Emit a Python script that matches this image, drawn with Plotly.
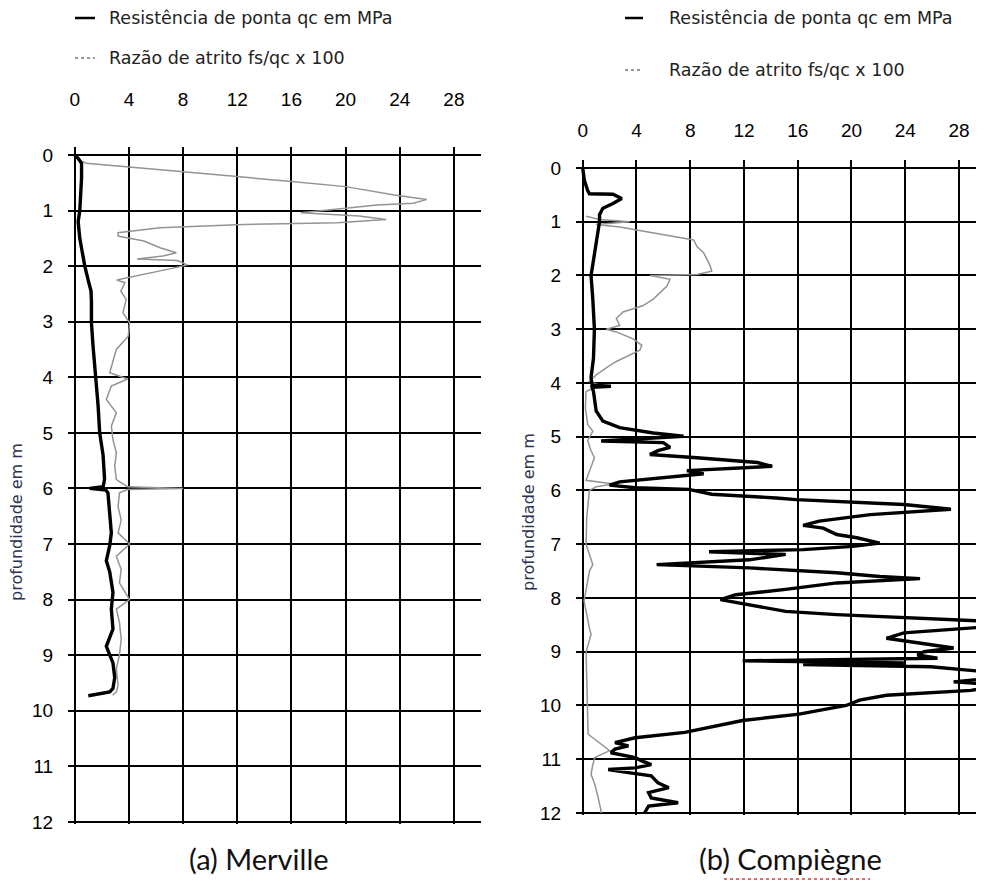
import plotly.graph_objects as go

# The page body has an 8px default margin, so the figure is drawn 8px in from the window edge.
OFF = 8
W, H = 984 - OFF, 890 - OFF

# ---------------- data ----------------
# Merville
mer_qc_depth = [0.0, 0.06, 0.15, 0.42, 1.0, 1.2, 1.5, 2.0, 2.26, 2.45, 2.63, 3.02, 3.44, 3.8, 4.03, 4.5,
                5.0, 5.4, 5.83, 5.97, 6.0, 6.03, 6.08, 6.5, 6.8, 7.03, 7.3, 7.5, 7.87, 8.17, 8.53,
                8.84, 9.14, 9.4, 9.6, 9.66, 9.7, 9.73]
mer_qc = [0.0, 0.25, 0.5, 0.5, 0.37, 0.25, 0.37, 0.74, 1.0, 1.2, 1.23, 1.23, 1.35, 1.47, 1.6, 1.72,
          1.84, 2.09, 2.2, 2.1, 1.1, 2.3, 2.45, 2.58, 2.7, 2.58, 2.33, 2.58, 2.82, 2.7, 2.82,
          2.33, 2.82, 2.95, 2.82, 2.58, 1.8, 1.0]

mer_rf_depth = [0.0, 0.09, 0.15, 0.21, 0.3, 0.39, 0.48, 0.57, 0.72, 0.8, 0.87, 0.9, 0.96, 1.04, 1.1,
                1.16, 1.22, 1.25, 1.31, 1.4, 1.46, 1.55, 1.67, 1.76, 1.82, 1.87, 1.9, 1.98, 2.05,
                2.15, 2.25, 2.3, 2.45, 2.6, 2.84, 3.02, 3.26, 3.5, 3.74, 3.92, 4.03, 4.16, 4.4,
                4.64, 4.88, 5.12, 5.36, 5.6, 5.84, 5.97, 6.0, 6.02, 6.08, 6.33, 6.57, 6.8, 7.0,
                7.22, 7.46, 7.7, 8.0, 8.17, 8.41, 8.71, 9.0, 9.24, 9.54, 9.66, 9.72]
mer_rf = [0.0, 0.25, 0.86, 3.8, 8.0, 12.0, 16.0, 20.0, 23.6, 26.0, 25.0, 22.3, 20.0, 16.7, 21.0,
          23.0, 19.4, 12.5, 6.3, 3.2, 3.2, 5.1, 6.3, 7.5, 6.5, 4.6, 7.6, 8.3, 7.0,
          5.0, 3.1, 3.7, 3.4, 3.8, 3.56, 4.05, 3.95, 3.07, 2.82, 2.58, 3.9, 2.7, 2.33,
          3.07, 2.7, 2.82, 3.07, 2.95, 3.07, 3.9, 8.0, 3.9, 3.3, 3.2, 3.43, 3.2, 4.05,
          3.07, 3.43, 3.3, 4.05, 3.07, 3.3, 3.43, 3.3, 3.07, 3.2, 3.07, 2.8]

# Compiègne
com_qc_depth = [0.0, 0.23, 0.42, 0.48, 0.49, 0.57, 0.66, 0.75, 0.87, 1.0, 1.4, 2.0, 2.44, 3.0, 3.54,
                3.9, 4.04, 4.06, 4.08, 4.16, 4.52, 4.71, 4.83, 4.93, 4.99, 5.05, 5.08, 5.11, 5.2,
                5.26, 5.33, 5.39, 5.48, 5.55, 5.63, 5.69, 5.78, 5.84, 5.9, 5.95, 5.98, 6.04, 6.07,
                6.14, 6.17, 6.26, 6.35, 6.45, 6.57, 6.65, 6.7, 6.82, 6.88, 6.98, 7.04, 7.1, 7.14,
                7.19, 7.29, 7.38, 7.44, 7.53, 7.6, 7.64, 7.72, 7.84, 7.94, 8.03, 8.12, 8.25, 8.31,
                8.4, 8.43, 8.5, 8.56, 8.65, 8.75, 8.84, 8.93, 9.0, 9.06, 9.12, 9.17, 9.21, 9.24,
                9.28, 9.37, 9.45, 9.56, 9.62, 9.72, 9.81, 9.9, 10.0, 10.16, 10.28, 10.41, 10.5,
                10.6, 10.69, 10.75, 10.81, 10.88, 10.97, 11.03, 11.1, 11.16, 11.19, 11.25, 11.31,
                11.44, 11.53, 11.62, 11.72, 11.81, 11.87, 12.0]
com_qc = [0.0, 0.12, 0.37, 0.5, 2.25, 2.9, 2.25, 1.5, 1.25, 1.25, 1.0, 0.62, 0.75, 0.87, 0.8,
          0.62, 0.7, 2.1, 0.7, 0.8, 1.0, 1.5, 2.75, 5.25, 7.5, 4.0, 1.37, 6.0, 6.5,
          5.6, 5.0, 8.5, 13.0, 14.1, 7.75, 9.0, 5.5, 2.75, 2.0, 3.9, 7.9, 8.9, 9.6,
          14.4, 15.9, 23.9, 27.4, 21.4, 17.6, 16.4, 17.9, 18.9, 20.4, 22.1, 20.1, 16.4, 9.4,
          15.1, 12.4, 5.5, 12.4, 18.9, 22.1, 25.1, 18.9, 15.1, 11.4, 10.25, 12.1, 15.1, 18.9,
          26.4, 29.9, 32.0, 28.9, 23.9, 22.6, 25.1, 27.6, 25.4, 24.9, 26.4, 11.9, 23.9, 16.4,
          25.9, 29.9, 32.0, 27.6, 31.0, 28.9, 22.6, 20.6, 19.6, 16.1, 11.9, 9.4, 7.6,
          3.9, 2.4, 3.4, 2.4, 2.1, 3.9, 4.4, 5.1, 3.9, 1.9, 3.4, 5.1,
          5.6, 6.4, 4.9, 5.1, 7.1, 4.9, 4.6]

com_rf_depth = [0.9, 0.96, 1.0, 1.05, 1.1, 1.2, 1.26, 1.34, 1.46, 1.58, 1.7, 1.83, 1.92, 1.98, 2.0,
                2.07, 2.2, 2.32, 2.44, 2.56, 2.68, 2.8, 2.93, 3.0, 3.05, 3.18, 3.3, 3.39, 3.48,
                3.6, 3.72, 3.85, 3.97, 4.04, 4.16, 4.47, 4.77, 4.9, 5.07, 5.26, 5.39, 5.63, 5.81,
                5.88, 5.93, 6.0, 6.5, 7.0, 7.38, 7.5, 8.06, 8.56, 8.68, 9.0, 9.5, 10.0, 10.3,
                10.53, 10.6, 10.72, 10.84, 10.97, 11.1, 11.28, 11.47, 11.66, 11.84, 12.0]
com_rf = [0.25, 1.25, 3.5, 1.0, 2.75, 5.0, 6.5, 8.25, 8.5, 9.0, 9.25, 9.5, 9.6, 8.5, 5.0,
          6.5, 6.25, 5.75, 5.25, 4.5, 3.0, 2.5, 2.75, 1.75, 2.5, 3.75, 4.4, 4.25, 3.5,
          2.5, 1.75, 1.0, 0.5, 1.25, 0.25, 0.2, 0.37, 0.75, 0.37, 0.62, 0.87, 0.5, 0.25,
          2.3, 1.0, 0.5, 0.3, 0.25, 0.75, 0.5, 0.1, 0.5, 0.62, 0.25, 0.3, 0.35, 0.35,
          0.4, 0.75, 1.4, 2.0, 0.9, 0.75, 0.62, 0.9, 1.1, 1.25, 1.4]

x_ticks = [0, 4, 8, 12, 16, 20, 24, 28]
y_ticks = list(range(0, 13))

legend_qc = "Resistência de ponta qc em MPa"
legend_rf = "Razão de atrito fs/qc x 100"
y_title = "profundidade em m"
captions = ["(a) Merville", "(b) Compiègne"]

# ---------------- figure ----------------
QC_COLOR = "#000000"
RF_COLOR = "#949494"
TEXT_FONT = "DejaVu Sans"
TICK_FONT = dict(family="Liberation Sans", size=19, color="#000000")

fig = go.Figure()
fig.add_trace(go.Scatter(x=mer_rf, y=mer_rf_depth, mode="lines", xaxis="x", yaxis="y",
                         line=dict(color=RF_COLOR, width=1.5), name=legend_rf, showlegend=False))
fig.add_trace(go.Scatter(x=mer_qc, y=mer_qc_depth, mode="lines", xaxis="x", yaxis="y",
                         line=dict(color=QC_COLOR, width=3.4), name=legend_qc, showlegend=False))
fig.add_trace(go.Scatter(x=com_rf, y=com_rf_depth, mode="lines", xaxis="x2", yaxis="y2",
                         line=dict(color=RF_COLOR, width=1.5), name=legend_rf, showlegend=False))
fig.add_trace(go.Scatter(x=com_qc, y=com_qc_depth, mode="lines", xaxis="x2", yaxis="y2",
                         line=dict(color=QC_COLOR, width=3.4), name=legend_qc, showlegend=False))


def px_x(p):
    # screen pixel -> paper fraction
    return (p - OFF) / W


def px_y(p):
    return 1 - (p - OFF) / H


common_x = dict(tickvals=x_ticks, side="top", showgrid=True, gridcolor="#000", gridwidth=2,
                zeroline=False, showline=False, ticks="outside", tickcolor="rgba(0,0,0,0)",
                tickfont=TICK_FONT, fixedrange=True)
common_y = dict(tickvals=y_ticks, showgrid=True, gridcolor="#000", gridwidth=2,
                zeroline=False, showline=False, ticks="outside", tickcolor="rgba(0,0,0,0)",
                ticklen=10, tickfont=TICK_FONT, fixedrange=True)

fig.update_layout(
    width=W, height=H, margin=dict(l=0, r=0, t=0, b=0, autoexpand=False),
    paper_bgcolor="white", plot_bgcolor="white", showlegend=False,
    xaxis=dict(domain=[px_x(68), px_x(481)], range=[-0.5, 30], anchor="y", ticklen=32, **common_x),
    yaxis=dict(domain=[px_y(823.6), px_y(146.6)], range=[12.03, -0.15], anchor="x", **common_y),
    xaxis2=dict(domain=[px_x(576), 1.0], range=[-0.5, 29.86], anchor="y2", ticklen=14, **common_x),
    yaxis2=dict(domain=[px_y(814.6), px_y(159.9)], range=[12.03, -0.15], anchor="x2", **common_y),
)

shapes = []
annotations = []


def legend_block(x0, x1, y_qc, y_rf, tx):
    shapes.append(dict(type="line", xref="paper", yref="paper", x0=px_x(x0), x1=px_x(x1),
                       y0=px_y(y_qc), y1=px_y(y_qc), line=dict(color=QC_COLOR, width=2.5)))
    shapes.append(dict(type="line", xref="paper", yref="paper", x0=px_x(x0), x1=px_x(x1),
                       y0=px_y(y_rf), y1=px_y(y_rf), line=dict(color="#777", width=1.5, dash="dot")))
    for txt, yy in [(legend_qc, y_qc), (legend_rf, y_rf)]:
        annotations.append(dict(text=txt, xref="paper", yref="paper", x=px_x(tx), y=px_y(yy),
                                xanchor="left", yanchor="middle", showarrow=False,
                                font=dict(family=TEXT_FONT, size=17.5, color="#222")))


legend_block(75, 95, 18, 58, 107)
legend_block(625, 643, 18, 70, 667)

for xx, yy in [(16, 522), (528, 512)]:
    annotations.append(dict(text=y_title, xref="paper", yref="paper", x=px_x(xx), y=px_y(yy),
                            xanchor="center", yanchor="middle", textangle=-90, showarrow=False,
                            font=dict(family=TEXT_FONT, size=16, color="#2b3350")))

for txt, xx in zip(captions, [259, 790]):
    annotations.append(dict(text=txt, xref="paper", yref="paper", x=px_x(xx), y=px_y(858),
                            xanchor="center", yanchor="middle", showarrow=False,
                            font=dict(family="Lato", size=29, color="#111")))

# spell-check squiggle under "Compiègne" as seen in the source image
shapes.append(dict(type="line", xref="paper", yref="paper", x0=px_x(724), x1=px_x(870),
                   y0=px_y(879), y1=px_y(879), line=dict(color="#d04040", width=1.5, dash="dot")))

fig.update_layout(shapes=shapes, annotations=annotations)
fig.write_html("out.html")
